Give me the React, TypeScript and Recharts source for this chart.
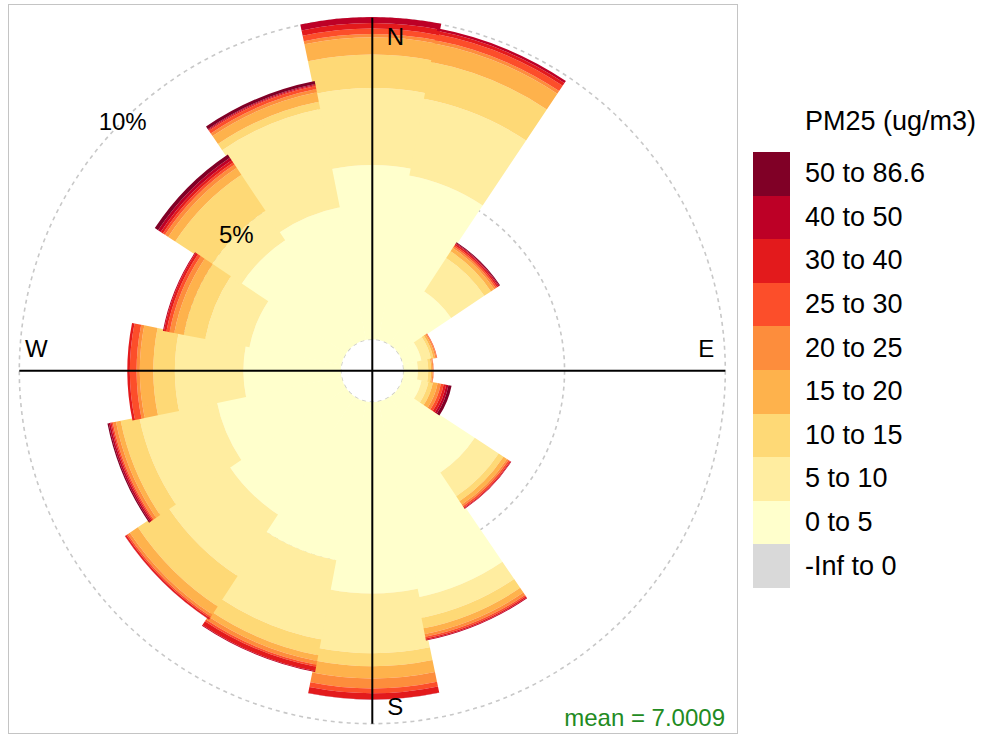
import React from 'react';
import {
  RadialBarChart,
  RadialBar,
  PolarAngleAxis,
  PolarRadiusAxis,
  PolarGrid,
} from 'recharts';

// wind sectors, clockwise from north
const directions = ['N', 'NNE', 'NE', 'ENE', 'E', 'ESE', 'SE', 'SSE', 'S', 'SSW', 'SW', 'WSW', 'W', 'WNW', 'NW', 'NNW'];

const binLabels = ['-Inf to 0', '0 to 5', '5 to 10', '10 to 15', '15 to 20', '20 to 25', '25 to 30', '30 to 40', '40 to 50', '50 to 86.6'];
const binColors = ['#d9d9d9', '#ffffcc', '#ffeda0', '#fed976', '#feb24c', '#fd8d3c', '#fc4e2a', '#e31a1c', '#bd0026', '#800026'];

// frequency (%) of each concentration band per sector
const pmNeg = [0, 0, 0, 0, 0, 0, 0, 0, 0, 0, 0, 0, 0, 0, 0, 0];
const pm0to5 = [5.42, 5.2, 1.97, 0.58, 0.44, 0.58, 2.83, 6.21, 5.95, 5.02, 4.37, 3.95, 3.03, 2.91, 3.9, 4.2];
const pm5to10 = [2.39, 2.43, 1.24, 0.3, 0.32, 0.22, 0.89, 0.65, 1.86, 2.51, 2.29, 2.46, 2.13, 1.4, 1.1, 3.12];
const pm10to15 = [1.04, 1.16, 0.25, 0.08, 0.09, 0.14, 0.18, 0.33, 0.4, 0.5, 1.13, 0.59, 0.67, 0.68, 1.35, 0.23];
const pm15to20 = [0.54, 0.59, 0.12, 0.06, 0.04, 0.15, 0.13, 0.18, 0.38, 0.18, 0.3, 0.15, 0.42, 0.3, 0.26, 0.3];
const pm20to25 = [0.1, 0.1, 0.06, 0.04, 0.03, 0.1, 0.06, 0.09, 0.31, 0.12, 0.08, 0.1, 0.1, 0.15, 0.12, 0.1];
const pm25to30 = [0.17, 0.2, 0.05, 0.02, 0.01, 0.09, 0.05, 0.05, 0.15, 0.06, 0.05, 0.04, 0.21, 0.1, 0.08, 0.1];
const pm30to40 = [0.17, 0.1, 0.05, 0, 0, 0.08, 0.03, 0.04, 0.19, 0.14, 0.05, 0.04, 0.08, 0.08, 0.08, 0.03];
const pm40to50 = [0.19, 0.08, 0.03, 0, 0, 0.07, 0.02, 0.03, 0.01, 0.03, 0.01, 0.05, 0, 0.03, 0.1, 0.03];
const pm50plus = [0, 0, 0.03, 0, 0, 0.1, 0, 0, 0, 0, 0, 0.04, 0, 0, 0.12, 0.1];

const binSeries = [pmNeg, pm0to5, pm5to10, pm10to15, pm15to20, pm20to25, pm25to30, pm30to40, pm40to50, pm50plus];

const gridPercents = [5, 10];
const meanValue = '7.0009';

const data = directions.map((dir, i) => {
  const row: Record<string, any> = { dir };
  binSeries.forEach((s, b) => {
    row['b' + b] = s[i];
  });
  return row;
});

const FONT = '"Liberation Sans", Arial, sans-serif';
const CX = 372.3;
const CY = 370.7;
const HOLE = 31.5;
const PX_PER_PCT = 32.15;
const R_MAX = 11;
const pctToR = (p: number) => HOLE + PX_PER_PCT * p;

const RadiusTick = ({ x, y, payload }: any) => (
  <text x={x} y={y} textAnchor="middle" dominantBaseline="central" fontSize={24} fontFamily={FONT} fill="#000">
    {payload.value}%
  </text>
);

// axis cross and compass letters, drawn on top of the wedges
const Compass = () => {
  const r = pctToR(10);
  return (
    <svg width={981} height={735} style={{ position: 'absolute', left: 0, top: 0, pointerEvents: 'none' }}>
      <line x1={CX - r} y1={CY} x2={CX + r} y2={CY} stroke="#000" strokeWidth={2} />
      <line x1={CX} y1={CY - r} x2={CX} y2={CY + r} stroke="#000" strokeWidth={2} />
      <g fontFamily={FONT} fontSize={24} fill="#000" textAnchor="middle" dominantBaseline="central">
        <text x={CX + 23} y={CY - 334}>N</text>
        <text x={CX + 334} y={CY - 22}>E</text>
        <text x={CX + 23} y={CY + 336}>S</text>
        <text x={CX - 336} y={CY - 22}>W</text>
      </g>
    </svg>
  );
};

export default function App() {
  return (
    <div style={{ position: 'absolute', left: 0, top: 0, width: 981, height: 735, background: '#fff', fontFamily: FONT }}>
      <div
        style={{
          position: 'absolute',
          left: 8,
          top: 4,
          width: 728,
          height: 728,
          border: '1.5px solid #c4c4c4',
        }}
      />
      <div style={{ position: 'absolute', left: 0, top: 0 }}>
        <RadialBarChart
          width={981}
          height={735}
          data={data}
          layout="centric"
          cx={CX}
          cy={CY}
          innerRadius={HOLE}
          outerRadius={pctToR(R_MAX)}
          startAngle={78.75}
          endAngle={-281.25}
          barCategoryGap={0}
          barGap={0}
          margin={{ top: 0, right: 0, bottom: 0, left: 0 }}
        >
          <PolarGrid
            gridType="circle"
            radialLines={false}
            polarRadius={[HOLE, ...gridPercents.map(pctToR)]}
            stroke="#c8c8c8"
            strokeWidth={1.6}
            strokeDasharray="4 4"
          />
          <PolarAngleAxis type="category" dataKey="dir" tick={false} axisLine={false} tickLine={false} />
          {binLabels.map((label, b) => (
            <RadialBar
              key={label}
              dataKey={'b' + b}
              name={label}
              stackId="pm"
              fill={binColors[b]}
              isAnimationActive={false}
            />
          ))}
          <PolarRadiusAxis
            type="number"
            domain={[0, R_MAX]}
            ticks={gridPercents}
            angle={135}
            axisLine={false}
            tickLine={false}
            tick={RadiusTick}
          />
        </RadialBarChart>
      </div>
      <Compass />
      <div
        style={{
          position: 'absolute',
          right: 256,
          top: 704,
          width: 300,
          textAlign: 'right',
          color: '#228B22',
          fontSize: 24,
          lineHeight: '28px',
        }}
      >
        mean = {meanValue}
      </div>
      <div style={{ position: 'absolute', left: 805, top: 105, fontSize: 27, lineHeight: '32px', color: '#000' }}>
        PM25 (ug/m3)
      </div>
      <div style={{ position: 'absolute', left: 753, top: 152 }}>
        {binLabels
          .map((label, b) => ({ label, color: binColors[b] }))
          .reverse()
          .map((item) => (
            <div key={item.label} style={{ display: 'flex', alignItems: 'center', height: 43.6 }}>
              <div style={{ width: 37, height: 43.6, background: item.color }} />
              <div style={{ marginLeft: 15, fontSize: 27, color: '#000', whiteSpace: 'nowrap' }}>{item.label}</div>
            </div>
          ))}
      </div>
    </div>
  );
}
